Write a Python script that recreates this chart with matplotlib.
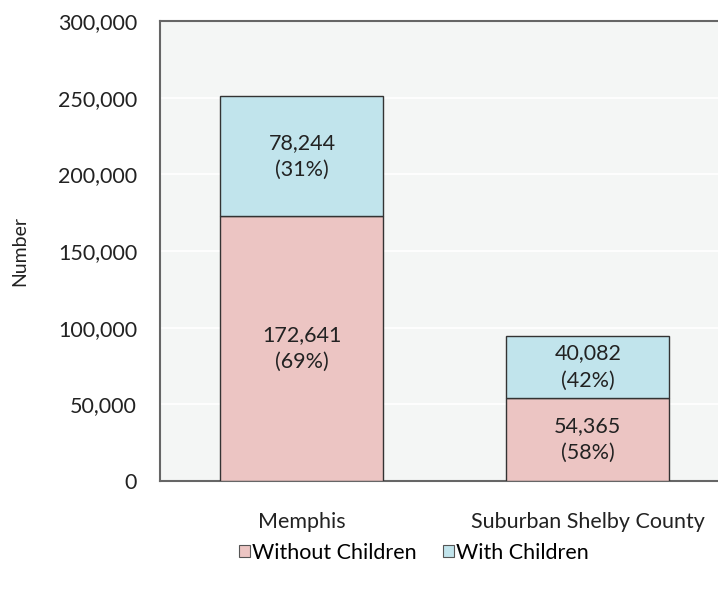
import matplotlib
matplotlib.use("Agg")
import matplotlib.pyplot as plt
from matplotlib.ticker import FuncFormatter
import numpy as np

categories = ["Memphis", "Suburban Shelby County"]
without_children = [172641, 54365]
with_children = [78244, 40082]
pct_without = ["69%", "58%"]
pct_with = ["31%", "42%"]

plt.rcParams['font.family'] = ['Lato', 'DejaVu Sans']

fig = plt.figure(figsize=(7.18, 5.92), dpi=100)
W, H = 718, 592
ax = fig.add_axes([160 / W, 1 - 481 / H, (718 - 160) / W, (481 - 21) / H])
ax.set_facecolor("#f4f6f5")

x = np.arange(len(categories))
bw = 0.57
c_wo = "#ecc5c3"
c_w = "#c1e4ec"
ax.bar(x, without_children, bw, color=c_wo, edgecolor="#333333", linewidth=1.0,
       label="Without Children", zorder=3)
ax.bar(x, with_children, bw, bottom=without_children, color=c_w, edgecolor="#333333",
       linewidth=1.0, label="With Children", zorder=3)

fs = 15.5
for i in range(len(categories)):
    ax.text(x[i], without_children[i] / 2, f"{without_children[i]:,}\n({pct_without[i]})",
            ha="center", va="center", fontsize=fs, color="#222222", zorder=4, linespacing=1.45)
    ax.text(x[i], without_children[i] + with_children[i] / 2,
            f"{with_children[i]:,}\n({pct_with[i]})",
            ha="center", va="center", fontsize=fs, color="#222222", zorder=4, linespacing=1.45)

ax.set_ylim(0, 300000)
ax.set_xlim(-0.4965, 1.455)
ax.set_yticks(np.arange(0, 300001, 50000))
ax.yaxis.set_major_formatter(FuncFormatter(lambda v, p: f"{int(v):,}"))
ax.grid(axis="y", color="white", linewidth=1.2, zorder=0)
ax.set_axisbelow(True)
ax.set_xticks(x)
ax.set_xticklabels(categories)
ax.tick_params(axis="both", length=0, labelsize=fs, colors="#222222")
ax.tick_params(axis="x", pad=22)
ax.tick_params(axis="y", pad=16.5)
for s in ["left", "bottom", "top"]:
    ax.spines[s].set_color("#666666")
    ax.spines[s].set_linewidth(1.5)
ax.spines["right"].set_visible(False)

fig.text(20 / W, 1 - 251 / H, "Number", rotation=90, ha="center", va="center",
         fontsize=14, color="#222222")

handles, labels = ax.get_legend_handles_labels()
leg = fig.legend(handles, labels, loc="center", bbox_to_anchor=(414 / W, 1 - 553 / H),
                 ncol=2, frameon=False, fontsize=fs, handlelength=0.5, handleheight=0.5,
                 handletextpad=0.1, columnspacing=1.2)
for h in leg.legend_handles:
    h.set_edgecolor("#555555")
    h.set_linewidth(0.8)

fig.savefig("out.png", dpi=100)
